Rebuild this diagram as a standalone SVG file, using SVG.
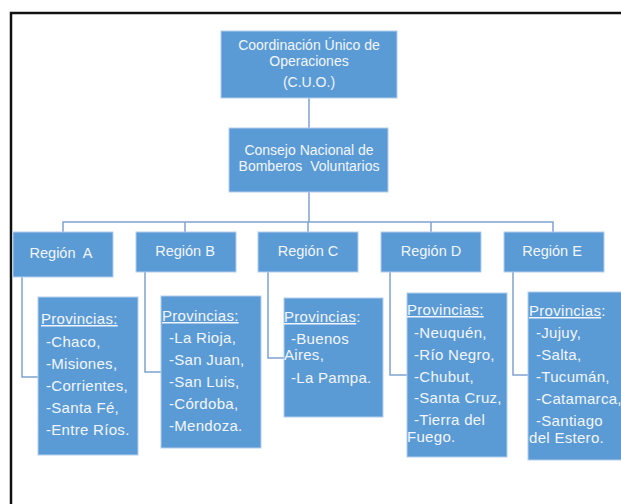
<svg xmlns="http://www.w3.org/2000/svg" width="621" height="504" viewBox="0 0 621 504">
<style>
.box{fill:#5B9BD5;stroke:#B4CDEB;stroke-width:1}
.t{font-family:"Liberation Sans",Arial,sans-serif;font-size:14px;fill:#F2F6FC}
.p{font-size:15px;letter-spacing:0.3px}
.r{font-size:14.5px}
.c{text-anchor:middle}
.u{text-decoration:underline}
.ln{fill:none;stroke:#7FA2D0;stroke-width:1.5}
</style>
<rect width="621" height="504" fill="#fff"/>
<path d="M11,504 V13 H621" fill="none" stroke="#111" stroke-width="2.5"/>
<g id="connectors">
<path class="ln" d="M309,98 V128"/>
<path class="ln" d="M309,192 V222 M63,232 V222 H553 V232 M185,222 V232 M308,222 V232 M431,222 V232"/>
<path class="ln" d="M22,277 V377 H38"/>
<path class="ln" d="M145,272 V372 H161"/>
<path class="ln" d="M268,272 V358 H284"/>
<path class="ln" d="M390,272 V375 H407"/>
<path class="ln" d="M513,272 V375 H528"/>
</g>
<g id="cuo">
<rect class="box" x="221" y="31" width="176" height="67"/>
<text class="t c" x="309" y="50">Coordinación Único de</text>
<text class="t c" x="309" y="66">Operaciones</text>
<text class="t c" x="309" y="87">(C.U.O.)</text>
</g>
<g id="consejo">
<rect class="box" x="229" y="128" width="159" height="64"/>
<text class="t c" x="309" y="155">Consejo Nacional de</text>
<text class="t c" x="309" y="171" xml:space="preserve">Bomberos  Voluntarios</text>
</g>
<g id="regionA">
<rect class="box" x="13" y="232" width="100" height="45"/>
<text class="t r c" x="61" y="258" xml:space="preserve">Región  A</text>
</g>
<g id="regionB">
<rect class="box" x="136" y="232" width="100" height="40"/>
<text class="t r c" x="185" y="256">Región B</text>
</g>
<g id="regionC">
<rect class="box" x="258" y="232" width="100" height="40"/>
<text class="t r c" x="308" y="256">Región C</text>
</g>
<g id="regionD">
<rect class="box" x="381" y="232" width="100" height="40"/>
<text class="t r c" x="431" y="256">Región D</text>
</g>
<g id="regionE">
<rect class="box" x="504" y="232" width="100" height="40"/>
<text class="t r c" x="552" y="256">Región E</text>
</g>
<g id="provA">
<rect class="box" x="38" y="297" width="100" height="158"/>
<text class="t p" x="41" y="324"><tspan class="u">Provincias:</tspan></text>
<text class="t p" x="46" y="347">-Chaco,</text>
<text class="t p" x="46" y="369">-Misiones,</text>
<text class="t p" x="46" y="391">-Corrientes,</text>
<text class="t p" x="46" y="413">-Santa Fé,</text>
<text class="t p" x="46" y="435">-Entre Ríos.</text>
</g>
<g id="provB">
<rect class="box" x="161" y="296" width="100" height="152"/>
<text class="t p" x="162" y="321"><tspan class="u">Provincias:</tspan></text>
<text class="t p" x="169" y="343">-La Rioja,</text>
<text class="t p" x="169" y="365">-San Juan,</text>
<text class="t p" x="169" y="387">-San Luis,</text>
<text class="t p" x="169" y="409">-Córdoba,</text>
<text class="t p" x="169" y="431">-Mendoza.</text>
</g>
<g id="provC">
<rect class="box" x="284" y="298" width="99" height="119"/>
<text class="t p" x="284" y="322"><tspan class="u">Provincias</tspan>:</text>
<text class="t p" x="291" y="344">-Buenos</text>
<text class="t p" x="284" y="360">Aires,</text>
<text class="t p" x="291" y="383">-La Pampa.</text>
</g>
<g id="provD">
<rect class="box" x="407" y="293" width="100" height="164"/>
<text class="t p" x="407" y="315"><tspan class="u">Provincias:</tspan></text>
<text class="t p" x="414" y="338">-Neuquén,</text>
<text class="t p" x="414" y="360">-Río Negro,</text>
<text class="t p" x="414" y="382">-Chubut,</text>
<text class="t p" x="414" y="403">-Santa Cruz,</text>
<text class="t p" x="414" y="425">-Tierra del</text>
<text class="t p" x="407" y="442">Fuego.</text>
</g>
<g id="provE">
<rect class="box" x="528" y="292" width="100" height="168"/>
<text class="t p" x="529" y="316"><tspan class="u">Provincias</tspan>:</text>
<text class="t p" x="536" y="338">-Jujuy,</text>
<text class="t p" x="536" y="360">-Salta,</text>
<text class="t p" x="536" y="382">-Tucumán,</text>
<text class="t p" x="536" y="404">-Catamarca,</text>
<text class="t p" x="536" y="426">-Santiago</text>
<text class="t p" x="529" y="443">del Estero.</text>
</g>
</svg>
